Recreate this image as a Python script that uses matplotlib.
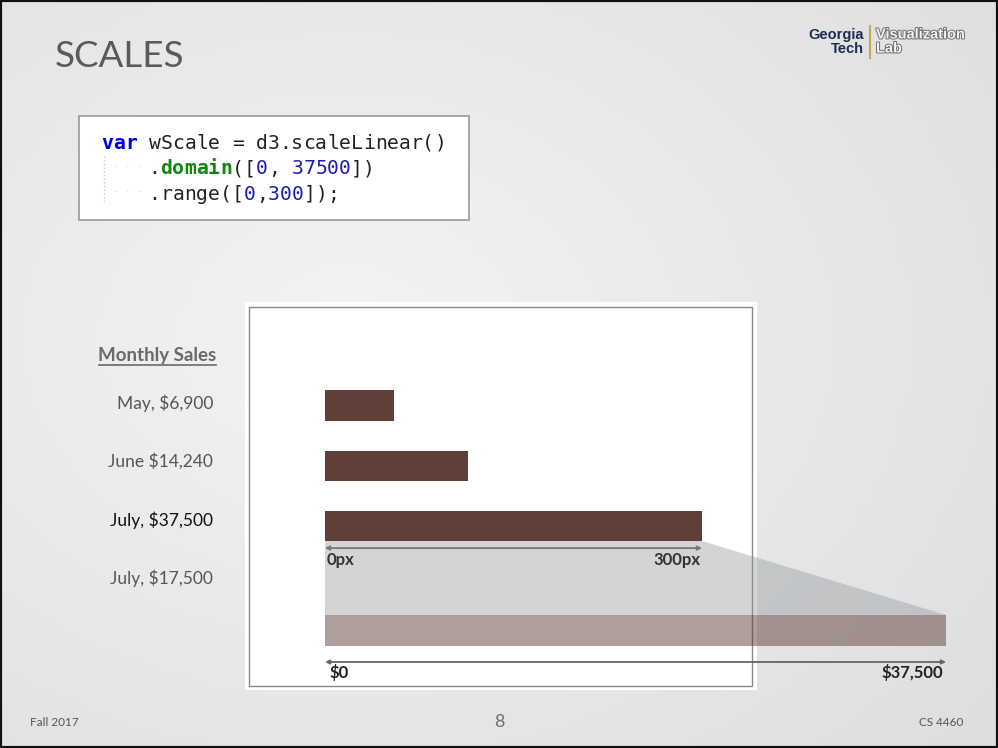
import numpy as np
import matplotlib.pyplot as plt
from matplotlib.patches import Rectangle, Polygon
import matplotlib.patheffects as pe

# chart data
labels = ["May, $6,900", "June $14,240", "July, $37,500", "July, $17,500"]
sales = [6900, 14240, 37500]
domain = [0, 37500]
range_px = [0, 300]
range_labels = ["0px", "300px"]
domain_labels = ["$0", "$37,500"]

W, H = 998, 748
brown = "#5f4038"


def rect(x0, y0, x1, y1):
    # pixel box (top-left origin) -> figure fraction
    return [x0 / W, 1 - y1 / H, (x1 - x0) / W, (y1 - y0) / H]


fig = plt.figure(figsize=(W / 100, H / 100), dpi=100)
bg = fig.add_axes([0, 0, 1, 1])
bg.set_xlim(0, W)
bg.set_ylim(H, 0)
bg.axis("off")

# slide background gradient
gx, gy = np.meshgrid(np.linspace(0, 1, 200), np.linspace(0, 1, 150))
d = np.sqrt((gx - 0.35) ** 2 + (gy - 0.45) ** 2)
img = np.array([0.95, 0.955, 0.96])[None, None, :] - 0.1 * d[..., None]
bg.imshow(np.clip(img, 0, 1), extent=(0, W, H, 0), aspect="auto", zorder=0)

# title + logo
bg.text(55, 56, "SCALES", fontsize=26.5, color="#5a5a5a", family="Lato",
        va="center", ha="left")
logo = dict(fontsize=10.5, weight="bold", family="Liberation Sans")
bg.text(864, 38.5, "Georgia", color="#1b2d54", ha="right", va="baseline", **logo)
bg.text(864, 52.5, "Tech", color="#1b2d54", ha="right", va="baseline", **logo)
bg.plot([870, 870], [26, 58], color="#c9a84c", lw=1.5)
for txt, yy in [("Visualization", 38.5), ("Lab", 52.5)]:
    bg.text(876, yy, txt, color="#f2f2f2", ha="left", va="baseline",
            path_effects=[pe.withStroke(linewidth=1.4, foreground="#6f6f6f")], **logo)

# code box
bg.add_patch(Rectangle((79, 116), 390, 104, facecolor="white",
                       edgecolor="#999999", lw=1.2, zorder=2))
cw = 11.9
blue, green, num, blk = "#0000dd", "#118811", "#1c1cb0", "#222222"
code = [
    (148.5, [("var", blue, "bold"), (" wScale = d3.scaleLinear()", blk, "normal")]),
    (174, [("    .", blk, "normal"), ("domain", green, "bold"), ("([", blk, "normal"),
           ("0", num, "normal"), (", ", blk, "normal"), ("37500", num, "normal"),
           ("])", blk, "normal")]),
    (199.5, [("    .range([", blk, "normal"), ("0", num, "normal"), (",", blk, "normal"),
             ("300", num, "normal"), ("]);", blk, "normal")]),
]
for yb, parts in code:
    i = 0
    for s, c, w in parts:
        for j, ch in enumerate(s):
            if ch == " ":
                continue
            bg.text(101 + (i + j) * cw, yb, ch, family="DejaVu Sans Mono",
                    fontsize=14.2, color=c, weight=w, va="baseline", ha="left", zorder=3)
        i += len(s)
    if yb > 150:
        for k in range(1, 4):
            bg.text(101 + k * cw + 3, yb - 4, "·", color="#cccccc", fontsize=8,
                    ha="center", va="baseline", zorder=3)
bg.plot([104, 104], [156, 204], color="#cccccc", lw=1, ls=":", zorder=3)

# chart panel
bg.add_patch(Rectangle((245, 302), 512, 388, facecolor="white",
                       edgecolor="none", zorder=2))
bg.add_patch(Rectangle((249, 307), 503, 379, facecolor="none",
                       edgecolor="#888888", lw=1, zorder=2))

# row labels
bg.text(216, 355, "Monthly Sales", fontsize=13.5, weight="bold", color="#6a6a6a",
        family="Lato", ha="right", va="center")
bg.plot([99, 216], [365, 365], color="#6a6a6a", lw=1.2)
for i, lab in enumerate(labels):
    col = "#111111" if i == 2 else "#555555"
    bg.text(213, 403 + 58.5 * i, lab, fontsize=12.5, color=col, family="Lato",
            ha="right", va="center")

# projection wedge
bg.add_patch(Polygon([(325, 541), (702, 541), (946, 615), (325, 615)],
                     closed=True, facecolor=(0.59, 0.605, 0.615), alpha=0.42,
                     edgecolor="none", zorder=3))

# bars on the pixel range scale
ax = fig.add_axes(rect(325, 375.35, 702, 556.25))
ax.barh(range(len(sales)), sales, height=0.5, color=brown, zorder=4)
ax.set_xlim(domain)
ax.set_ylim(2.5, -0.5)
ax.axis("off")
ya = 2.365
ax.annotate("", xy=(domain[1], ya), xytext=(domain[0], ya), annotation_clip=False,
            arrowprops=dict(arrowstyle="<|-|>", color="#777777", lw=1.3,
                            mutation_scale=6, shrinkA=0, shrinkB=0))
ax.text(domain[0] + 200, 2.57, range_labels[0], fontsize=12, weight="bold",
        color="#333333", family="Lato", ha="left", va="center", clip_on=False)
ax.text(domain[1] - 200, 2.57, range_labels[1], fontsize=12, weight="bold",
        color="#333333", family="Lato", ha="right", va="center", clip_on=False)

# domain bar on the dollar scale
ax2 = fig.add_axes(rect(325, 615, 946, 646))
ax2.barh(0, domain[1] - domain[0], left=domain[0], height=1, color=brown,
         alpha=0.5)
ax2.set_xlim(domain)
ax2.set_ylim(0.5, -0.5)
ax2.axis("off")
ax2.annotate("", xy=(domain[1], 1.016), xytext=(domain[0], 1.016),
             annotation_clip=False,
             arrowprops=dict(arrowstyle="<|-|>", color="#666666", lw=1.3,
                             mutation_scale=6, shrinkA=0, shrinkB=0))
ax2.text(domain[0] + 300, 1.37, domain_labels[0], fontsize=12, weight="bold",
         color="#222222", family="Lato", ha="left", va="center", clip_on=False)
ax2.text(domain[1] - 200, 1.37, domain_labels[1], fontsize=12, weight="bold",
         color="#222222", family="Lato", ha="right", va="center", clip_on=False)

# footer
bg.text(30, 723, "Fall 2017", fontsize=8.5, color="#555555", family="Lato",
        ha="left", va="center")
bg.text(499, 722, "8", fontsize=13, color="#707070", family="Lato",
        ha="center", va="center")
bg.text(963, 723, "CS 4460", fontsize=8.5, color="#555555", family="Lato",
        ha="right", va="center")

# slide frame
fig.add_artist(Rectangle((0, 0), 1, 1, transform=fig.transFigure,
                         facecolor="none", edgecolor="#111111", lw=3))

fig.savefig("out.png", dpi=100)
